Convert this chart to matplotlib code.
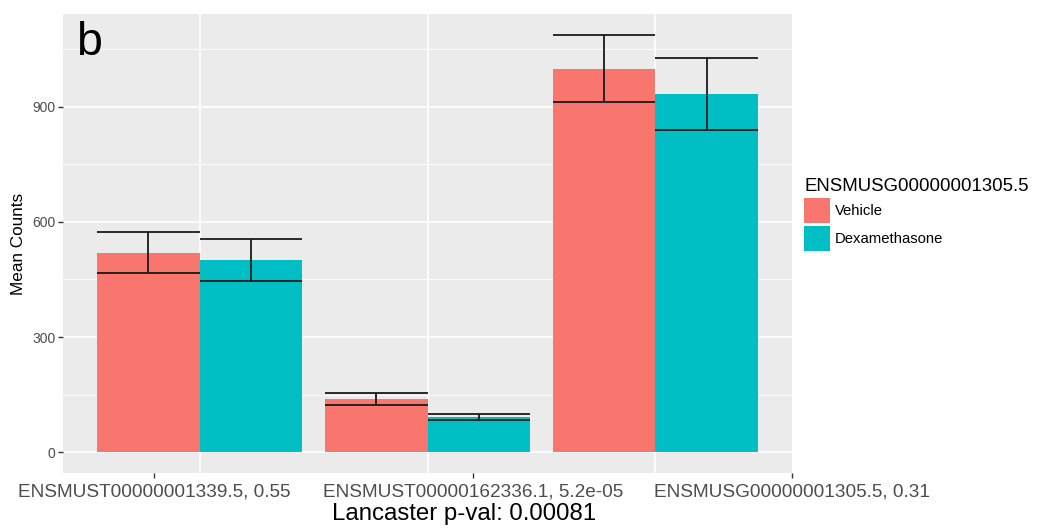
import matplotlib
matplotlib.use("Agg")
import matplotlib.pyplot as plt
from matplotlib.patches import Patch
import numpy as np

plt.rcParams['font.family'] = ['Liberation Sans', 'DejaVu Sans']

# data
groups = ["ENSMUST00000001339.5, 0.55",
          "ENSMUST00000162336.1, 5.2e-05",
          "ENSMUSG00000001305.5, 0.31"]
conditions = ["Vehicle", "Dexamethasone"]
vehicle_mean = [520, 139, 999]
vehicle_se = [53, 15, 87]
dex_mean = [501, 92, 933]
dex_se = [55, 7, 93]
legend_title = "ENSMUSG00000001305.5"
x_title = "Lancaster p-val: 0.00081"
y_title = "Mean Counts"
y_ticks = [0, 300, 600, 900]

colors = ["#F8766D", "#00BFC4"]
W, H = 1038, 531
fig = plt.figure(figsize=(W / 100, H / 100), dpi=100)
ax = fig.add_axes([63 / W, 1 - 473 / H, (792 - 63) / W, (473 - 14) / H])
ax.set_facecolor("#EBEBEB")

x = np.arange(1, len(groups) + 1)
bw = 0.45
means = [vehicle_mean, dex_mean]
ses = [vehicle_se, dex_se]
for i, (m, s) in enumerate(zip(means, ses)):
    pos = x + (i - 0.5) * bw
    m = np.array(m, float)
    s = np.array(s, float)
    ax.bar(pos, m, width=bw, color=colors[i], zorder=2, label=conditions[i])
    ax.vlines(pos, m - s, m + s, color="#1a1a1a", lw=1.3, zorder=3)
    ax.hlines(m - s, pos - bw / 2, pos + bw / 2, color="#1a1a1a", lw=1.3, zorder=3)
    ax.hlines(m + s, pos - bw / 2, pos + bw / 2, color="#1a1a1a", lw=1.3, zorder=3)

ax.set_xlim(0.4, 3.6)
ax.set_ylim(-54, 1141)

# grid lines
for v in [150, 450, 750, 1050]:
    ax.axhline(v, color="white", lw=0.6, zorder=1)
for v in y_ticks:
    ax.axhline(v, color="white", lw=1.2, zorder=1)
for v in x:
    ax.axvline(v, color="white", lw=1.2, zorder=1)

ax.set_yticks(y_ticks)
ax.set_yticklabels([str(v) for v in y_ticks], fontsize=10, color="#4D4D4D")
ax.set_xticks([0.8, 2.2, 3.6])
ax.set_xticklabels(groups, fontsize=13.7, color="#4D4D4D")
ax.tick_params(axis="both", length=3.5, width=1.0, color="#333333")
ax.tick_params(axis="y", pad=2)
ax.tick_params(axis="x", pad=4)
for sp in ax.spines.values():
    sp.set_visible(False)

fig.text(464 / W, 1 - 520 / H, x_title, ha="center", va="baseline", fontsize=17.3)
fig.text(19 / W, 1 - 244 / H, y_title, ha="center", va="center",
         rotation=90, fontsize=12.3)
fig.text(76 / W, 1 - 55 / H, "b", ha="left", va="baseline", fontsize=33.5)

handles = [Patch(facecolor=c, edgecolor="none") for c in colors]
leg = fig.legend(handles, conditions, title=legend_title,
                 loc="upper left", bbox_to_anchor=(804 / W, 1 - 178 / H),
                 frameon=False, fontsize=10.7, title_fontsize=13.4,
                 handlelength=1.72, handleheight=2.21, labelspacing=0.2,
                 handletextpad=0.33, borderpad=0, borderaxespad=0,
                 alignment="left")

fig.savefig("out.png", dpi=100)
